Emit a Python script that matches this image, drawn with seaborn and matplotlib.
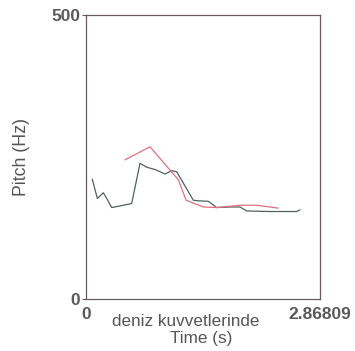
import matplotlib
matplotlib.use("Agg")
import matplotlib.pyplot as plt
import seaborn as sns
import pandas as pd

t_dark = [0.077, 0.139, 0.212, 0.254, 0.315, 0.560, 0.662, 0.744, 0.846, 0.968, 1.050, 1.112,
          1.193, 1.315, 1.357, 1.499, 1.602, 1.765, 1.888, 1.970, 2.255, 2.583, 2.623]
f_dark = [211, 177, 187, 177, 161, 168, 239, 232, 228, 220, 226, 224,
          204, 174, 173, 172, 161, 162, 162, 155, 154, 154, 157]
t_red = [0.478, 0.784, 1.030, 1.131, 1.226, 1.438, 1.602, 1.888, 2.092, 2.255, 2.357]
f_red = [245, 268, 227, 210, 174, 162, 161, 165, 165, 162, 160]

x_max = 2.86809
y_max = 500
word = "deniz kuvvetlerinde"

df = pd.concat([
    pd.DataFrame({"t": t_dark, "f": f_dark, "s": "dark"}),
    pd.DataFrame({"t": t_red, "f": f_red, "s": "red"}),
])

sns.set_style("white")
plt.rcParams["font.family"] = ["Liberation Sans", "DejaVu Sans"]

W, H = 355, 351
fig = plt.figure(figsize=(3.55, 3.51), dpi=100)
ax = fig.add_axes([86/W, 1-299/H, 234/W, 284/H])
sns.lineplot(data=df, x="t", y="f", hue="s", palette={"dark": "#4f625c", "red": "#e0707e"},
             ax=ax, legend=False, linewidth=0.9, sort=False, estimator=None)
ax.set_xlim(0, x_max)
ax.set_ylim(0, y_max)
for sp in ax.spines.values():
    sp.set_color("#6a5a5a")
    sp.set_linewidth(0.9)
ax.set_xticks([0, x_max])
ax.set_xticklabels(["0", "2.86809"])
ax.set_yticks([0, y_max])
ax.set_yticklabels(["0", "500"])
ax.tick_params(axis="both", labelsize=12.5, colors="#5a5a5a", length=3, width=0.8,
               left=True, bottom=False, pad=1)
ax.tick_params(axis="x", pad=3)
for lab in ax.get_xticklabels() + ax.get_yticklabels():
    lab.set_fontweight("bold")
ax.set_xlabel("Time (s)", fontsize=12.3, color="#555555", va="center")
ax.xaxis.set_label_coords((201-86)/234, (299-338)/284)
ax.set_ylabel("Pitch (Hz)", fontsize=12.8, color="#555555", va="center")
ax.yaxis.set_label_coords((22-86)/234, 0.5)
fig.text(186/W, 1-321/H, word, fontsize=12.3, color="#555555", ha="center", va="center")
fig.savefig("out.png", dpi=100)
